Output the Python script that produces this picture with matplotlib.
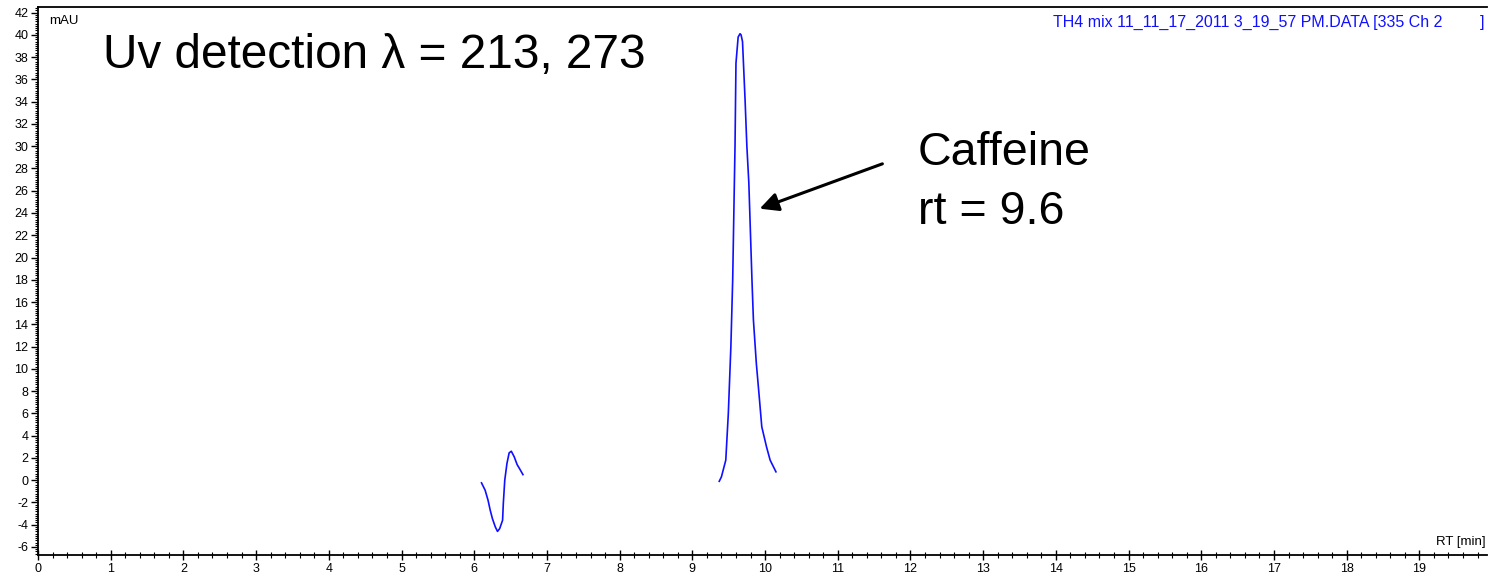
import matplotlib
matplotlib.use("Agg")
import matplotlib.pyplot as plt
from matplotlib.ticker import MultipleLocator

plt.rcParams['font.family'] = ['Liberation Sans', 'DejaVu Sans']
plt.rcParams['axes.unicode_minus'] = False

# small disturbance around 6.3 min
t_early = [6.10, 6.15, 6.19, 6.22, 6.25, 6.29, 6.32, 6.35, 6.39, 6.40, 6.42,
           6.45, 6.48, 6.51, 6.55, 6.59, 6.63, 6.67]
mau_early = [-0.24, -0.9, -1.8, -2.7, -3.45, -4.2, -4.6, -4.35, -3.6, -2.1, 0.0,
             1.5, 2.45, 2.6, 2.1, 1.4, 0.96, 0.5]

# caffeine peak
t_caff = [9.37, 9.40, 9.46, 9.495, 9.53, 9.555, 9.578, 9.587, 9.60, 9.63,
          9.656, 9.67, 9.69, 9.725, 9.75, 9.777, 9.82, 9.84, 9.88, 9.92,
          9.955, 10.02, 10.07, 10.15]
mau_caff = [-0.1, 0.3, 1.8, 6.0, 12.0, 18.0, 26.7, 30.0, 37.45, 39.8,
            40.1, 40.0, 39.4, 34.2, 30.0, 26.7, 18.0, 14.4, 10.5, 7.5,
            4.8, 3.0, 1.8, 0.75]

fig = plt.figure(figsize=(14.89, 5.73), dpi=100)
ax = fig.add_axes([38 / 1489, 18 / 573, 1449 / 1489, 548 / 573])

blue = '#1010ff'
ax.plot(t_early, mau_early, color=blue, lw=1.2)
ax.plot(t_caff, mau_caff, color=blue, lw=1.2)

ax.set_xlim(0, 19.93)
ax.set_ylim(-6.72, 42.5)
ax.xaxis.set_major_locator(MultipleLocator(1))
ax.xaxis.set_minor_locator(MultipleLocator(0.2))
ax.yaxis.set_major_locator(MultipleLocator(2))
ax.yaxis.set_minor_locator(MultipleLocator(0.2))
ax.tick_params(which='major', length=5, width=1, labelsize=9, pad=2)
ax.tick_params(which='minor', length=2.5, width=0.8)
ax.tick_params(axis='x', which='major', direction='inout', length=7)
ax.tick_params(axis='x', which='minor', direction='inout', length=4)

ax.spines['right'].set_visible(False)
for s in ['left', 'bottom', 'top']:
    ax.spines[s].set_linewidth(1.3)

ax.text(0.008, 0.985, 'mAU', transform=ax.transAxes, fontsize=9.5,
        va='top', ha='left')
ax.text(0.999, 0.013, 'RT [min]', transform=ax.transAxes, fontsize=9.5,
        va='bottom', ha='right')
ax.text(0.7005, 0.985, 'TH4 mix 11_11_17_2011 3_19_57 PM.DATA [335 Ch 2',
        transform=ax.transAxes, fontsize=11.5, va='top', ha='left', color=blue)
ax.text(0.998, 0.985, ']', transform=ax.transAxes, fontsize=11.5,
        va='top', ha='right', color=blue)

ax.text(0.9, 37.0, 'Uv detection \u03bb = 213, 273', fontsize=34.4, va='baseline')
ax.text(12.1, 28.3, 'Caffeine', fontsize=33.6, va='baseline')
ax.text(12.1, 23.0, 'rt = 9.6', fontsize=33.6, va='baseline')

ax.annotate('', xy=(9.89, 24.3), xytext=(11.65, 28.5),
            arrowprops=dict(arrowstyle='-|>', color='black', lw=2.2,
                            mutation_scale=28))

fig.savefig('out.png', dpi=100)
plt.close('all')
